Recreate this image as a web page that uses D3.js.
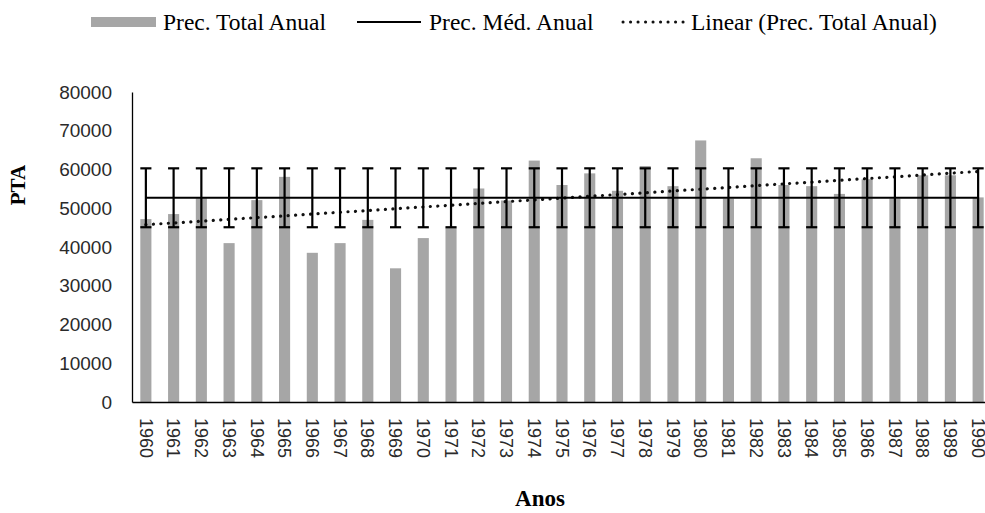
<!DOCTYPE html>
<html>
<head>
<meta charset="utf-8">
<script src="https://cdn.jsdelivr.net/npm/d3@7"></script>
<style>
  body { margin: 0; background: #fff; }
  svg { display: block; }
</style>
</head>
<body>
<div id="chart"></div>
<script>
// anos e precipitação total anual
const years = d3.range(1960, 1991).map(String);
const precTotal = [
  47200, 48500, 52600, 41000, 52100, 58100, 38500, 41000, 47000, 34500,
  42300, 45000, 55100, 52000, 62300, 56000, 59000, 54500, 60900, 55700,
  67500, 52500, 62900, 56000, 55700, 53700, 57500, 52500, 58500, 58500,
  52800
];
const precMedia = 52700;   // Prec. Méd. Anual
const erroMedia = 7600;    // barra de erro (+/-)
const yTicks = [0, 10000, 20000, 30000, 40000, 50000, 60000, 70000, 80000];
const legendLabels = ["Prec. Total Anual", "Prec. Méd. Anual", "Linear (Prec. Total Anual)"];

const width = 985, height = 513;
const margin = {top: 92, right: -7, bottom: 111, left: 132};

const data = years.map((y, i) => ({year: y, value: precTotal[i]}));

const svg = d3.select("#chart").append("svg")
  .attr("width", width)
  .attr("height", height);

const x = d3.scaleBand()
  .domain(years)
  .range([margin.left, width - margin.right])
  .paddingInner(0.6)
  .paddingOuter(0.3);

const y = d3.scaleLinear()
  .domain([0, 80000])
  .range([height - margin.bottom, margin.top]);

const cx = d => x(d) + x.bandwidth() / 2;

// barras
svg.append("g")
  .selectAll("rect")
  .data(data)
  .join("rect")
    .attr("x", d => x(d.year))
    .attr("y", d => y(d.value))
    .attr("width", x.bandwidth())
    .attr("height", d => y(0) - y(d.value))
    .attr("fill", "#a6a6a6");

// linha de tendência (mínimos quadrados)
const idx = d3.range(years.length);
const mx = d3.mean(idx), my = d3.mean(precTotal);
const slope = d3.sum(idx, i => (i - mx) * (precTotal[i] - my)) / d3.sum(idx, i => (i - mx) ** 2);
const intercept = my - slope * mx;
const trend = idx.map(i => ({year: years[i], value: intercept + slope * i}));

svg.append("path")
  .datum(trend)
  .attr("fill", "none")
  .attr("stroke", "#111")
  .attr("stroke-width", 3.2)
  .attr("stroke-linecap", "round")
  .attr("stroke-dasharray", "0.1,7.4")
  .attr("d", d3.line().x(d => cx(d.year)).y(d => y(d.value)));

// linha da média
svg.append("path")
  .datum(years)
  .attr("fill", "none")
  .attr("stroke", "#000")
  .attr("stroke-width", 2)
  .attr("d", d3.line().x(d => cx(d)).y(() => y(precMedia)));

// barras de erro
const capW = x.bandwidth() / 2;
const err = svg.append("g")
  .attr("stroke", "#000")
  .attr("stroke-width", 2.2)
  .selectAll("g")
  .data(years)
  .join("g");

err.append("line")
  .attr("x1", d => cx(d)).attr("x2", d => cx(d))
  .attr("y1", y(precMedia + erroMedia)).attr("y2", y(precMedia - erroMedia));
err.append("line")
  .attr("x1", d => cx(d) - capW).attr("x2", d => cx(d) + capW)
  .attr("y1", y(precMedia + erroMedia)).attr("y2", y(precMedia + erroMedia));
err.append("line")
  .attr("x1", d => cx(d) - capW).attr("x2", d => cx(d) + capW)
  .attr("y1", y(precMedia - erroMedia)).attr("y2", y(precMedia - erroMedia));

// eixos
const yAxis = svg.append("g")
  .attr("transform", `translate(${margin.left},0)`)
  .call(d3.axisLeft(y).tickValues(yTicks).tickSize(0).tickPadding(20).tickFormat(d3.format("d")));
yAxis.select(".domain").attr("stroke", "#000").attr("stroke-width", 1.3);
yAxis.selectAll("text")
  .attr("fill", "#2a2a2a")
  .style("font-family", "'Liberation Sans', Arial, sans-serif")
  .style("font-size", "19px");

const xAxis = svg.append("g")
  .attr("transform", `translate(0,${y(0)})`)
  .call(d3.axisBottom(x).tickSize(0).tickPadding(0));
xAxis.select(".domain").attr("stroke", "#000").attr("stroke-width", 1.3);
xAxis.selectAll("text")
  .attr("fill", "#2a2a2a")
  .attr("transform", "rotate(90)")
  .attr("text-anchor", "start")
  .attr("x", 16)
  .attr("y", 0)
  .attr("dy", "0.35em")
  .style("font-family", "'Liberation Sans', Arial, sans-serif")
  .style("font-size", "18px");

// títulos dos eixos
svg.append("text")
  .attr("transform", "translate(25,185) rotate(-90)")
  .attr("text-anchor", "middle")
  .style("font-family", "'Liberation Serif', 'Times New Roman', serif")
  .style("font-weight", "bold")
  .style("font-size", "21px")
  .text("PTA");

svg.append("text")
  .attr("x", 540)
  .attr("y", 506)
  .attr("text-anchor", "middle")
  .style("font-family", "'Liberation Serif', 'Times New Roman', serif")
  .style("font-weight", "bold")
  .style("font-size", "23px")
  .text("Anos");

// legenda
const legend = svg.append("g")
  .style("font-family", "'Liberation Serif', 'Times New Roman', serif")
  .style("font-size", "23.5px");

legend.append("rect")
  .attr("x", 91).attr("y", 17).attr("width", 65).attr("height", 10)
  .attr("fill", "#a6a6a6");
legend.append("text").attr("x", 163).attr("y", 30).text(legendLabels[0]);

legend.append("line")
  .attr("x1", 357).attr("x2", 421).attr("y1", 22).attr("y2", 22)
  .attr("stroke", "#000").attr("stroke-width", 2.2);
legend.append("text").attr("x", 429).attr("y", 30).text(legendLabels[1]);

legend.append("line")
  .attr("x1", 623).attr("x2", 685).attr("y1", 22).attr("y2", 22)
  .attr("stroke", "#111").attr("stroke-width", 3)
  .attr("stroke-linecap", "round")
  .attr("stroke-dasharray", "0.1,7.4");
legend.append("text").attr("x", 691).attr("y", 30).text(legendLabels[2]);
</script>
</body>
</html>
